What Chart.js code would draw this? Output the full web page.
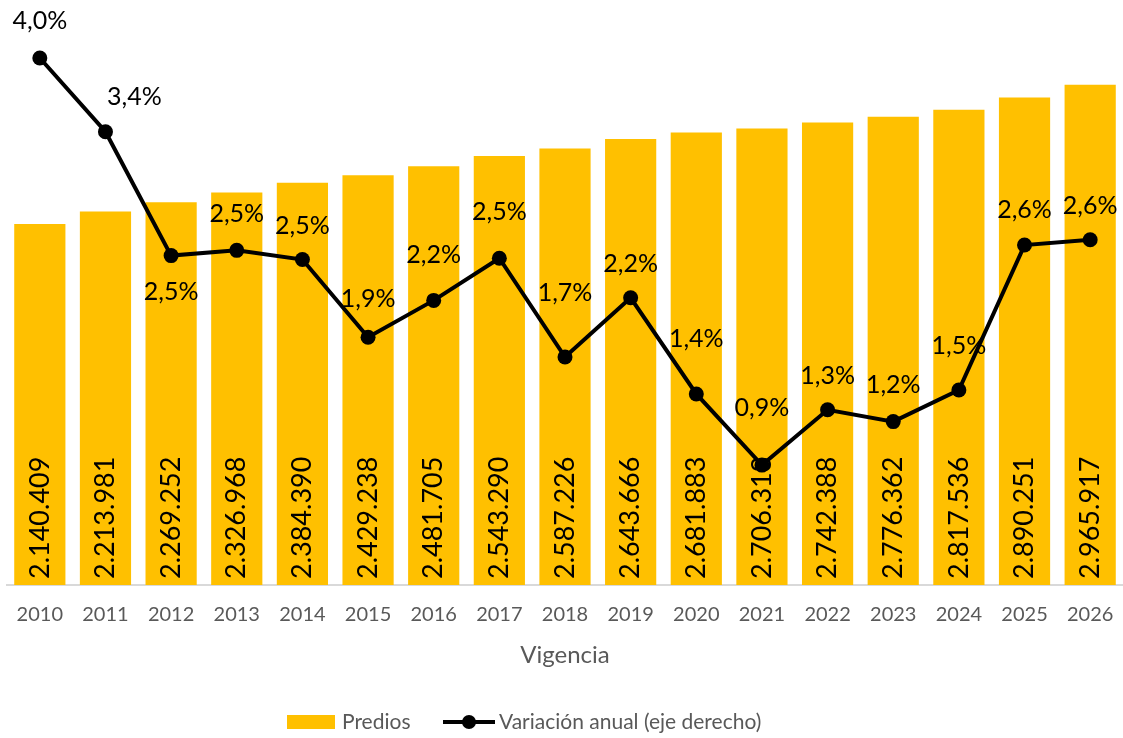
<!DOCTYPE html>
<html>
<head>
<meta charset="utf-8">
<script src="https://cdn.jsdelivr.net/npm/chart.js@4/dist/chart.umd.min.js"></script>
<style>
    html, body { margin: 0; padding: 0; background: #ffffff; }
    #wrap { width: 1123px; height: 738px; position: relative; }
</style>
</head>
<body>
<div id="wrap"><canvas id="predChart"></canvas></div>
<script>
const years = ["2010", "2011", "2012", "2013", "2014", "2015", "2016", "2017", "2018",
    "2019", "2020", "2021", "2022", "2023", "2024", "2025", "2026"];

const predios = [2140409, 2213981, 2269252, 2326968, 2384390, 2429238, 2481705, 2543290,
    2587226, 2643666, 2681883, 2706313, 2742388, 2776362, 2817536, 2890251, 2965917];

// variación anual, %
const variacion = [4.0, 3.44, 2.50, 2.54, 2.47, 1.88, 2.16, 2.48, 1.73, 2.18, 1.45,
    0.91, 1.33, 1.24, 1.48, 2.58, 2.62];

// where each % label sits relative to its point (dx, dy in px)
const pctLabelShift = [[0, -37], [29, -35], [0, 36], [0, -36], [0, -34], [0, -38], [0, -45],
    [0, -46], [0, -64], [0, -34], [0, -55], [0, -57], [0, -34], [0, -37], [0, -44], [0, -35], [0, -34]];

const FONT = "Lato, 'Open Sans', sans-serif";
const YELLOW = "#FFC000";
const GREY = "#595959";

const fmtThousands = (v) => v.toString().replace(/\B(?=(\d{3})+(?!\d))/g, ".");
const fmtPct = (v) => v.toFixed(1).replace(".", ",") + "%";

const labelsPlugin = {
    id: "labelsPlugin",
    afterDatasetsDraw(chart) {
        const ctx = chart.ctx;
        const bars = chart.getDatasetMeta(0).data;
        const pts = chart.getDatasetMeta(1).data;
        const bottom = chart.chartArea.bottom;

        ctx.save();
        ctx.fillStyle = "#000000";

        // vertical labels inside bars
        ctx.font = "27px " + FONT;
        ctx.textAlign = "left";
        ctx.textBaseline = "middle";
        bars.forEach((bar, i) => {
            ctx.save();
            ctx.translate(bar.x, bottom - 6);
            ctx.rotate(-Math.PI / 2);
            ctx.fillText(fmtThousands(predios[i]), 0, 0);
            ctx.restore();
        });

        // % labels
        ctx.font = "25px " + FONT;
        ctx.textAlign = "center";
        pts.forEach((pt, i) => {
            const [dx, dy] = pctLabelShift[i];
            ctx.fillText(fmtPct(variacion[i]), pt.x + dx, pt.y + dy);
        });
        ctx.restore();
    },
    afterDraw(chart) {
        const ctx = chart.ctx;
        const area = chart.chartArea;
        ctx.save();
        ctx.textBaseline = "middle";

        // axis title
        ctx.font = "24px " + FONT;
        ctx.fillStyle = GREY;
        ctx.textAlign = "center";
        ctx.fillText("Vigencia", (area.left + area.right) / 2, 655);

        // legend
        const y = 722;
        ctx.font = "21px " + FONT;
        ctx.textAlign = "left";
        ctx.fillStyle = YELLOW;
        ctx.fillRect(287, y - 7, 48, 14);
        ctx.fillStyle = GREY;
        ctx.fillText("Predios", 342, y);

        ctx.strokeStyle = "#000000";
        ctx.lineWidth = 4;
        ctx.beginPath();
        ctx.moveTo(443, y);
        ctx.lineTo(495, y);
        ctx.stroke();
        ctx.fillStyle = "#000000";
        ctx.beginPath();
        ctx.arc(469, y, 7, 0, Math.PI * 2);
        ctx.fill();
        ctx.fillStyle = GREY;
        ctx.fillText("Variación anual (eje derecho)", 499, y);
        ctx.restore();
    },
};

new Chart(document.getElementById("predChart"), {
    data: {
        labels: years,
        datasets: [
            {
                type: "bar",
                label: "Predios",
                data: predios,
                backgroundColor: YELLOW,
                yAxisID: "y",
                barPercentage: 0.78,
                categoryPercentage: 1,
                order: 2,
            },
            {
                type: "line",
                label: "Variación anual (eje derecho)",
                data: variacion,
                borderColor: "#000000",
                backgroundColor: "#000000",
                borderWidth: 4,
                pointRadius: 7.5,
                pointBackgroundColor: "#000000",
                pointBorderWidth: 0,
                tension: 0,
                clip: false,
                yAxisID: "y2",
                order: 1,
            },
        ],
    },
    options: {
        responsive: true,
        maintainAspectRatio: false,
        animation: false,
        layout: {
            autoPadding: false,
            padding: { left: 7, right: 0, top: 0, bottom: 0 },
        },
        plugins: {
            legend: { display: false },
            tooltip: { enabled: false },
        },
        scales: {
            x: {
                afterFit: (scale) => {
                    scale.height = 153;
                },
                grid: {
                    display: true,
                    drawOnChartArea: false,
                    drawTicks: true,
                    tickLength: 18,
                    color: "rgba(0,0,0,0)",
                },
                border: { display: true, color: "#D9D9D9", width: 2 },
                ticks: {
                    color: GREY,
                    padding: 0,
                    maxRotation: 0,
                    autoSkip: false,
                    font: { family: FONT, size: 20 },
                },
            },
            y: {
                display: false,
                min: 0,
                max: 3468000,
            },
            y2: {
                display: false,
                position: "right",
                min: 0,
                max: 4.44,
            },
        },
    },
    plugins: [labelsPlugin],
});
</script>
</body>
</html>
